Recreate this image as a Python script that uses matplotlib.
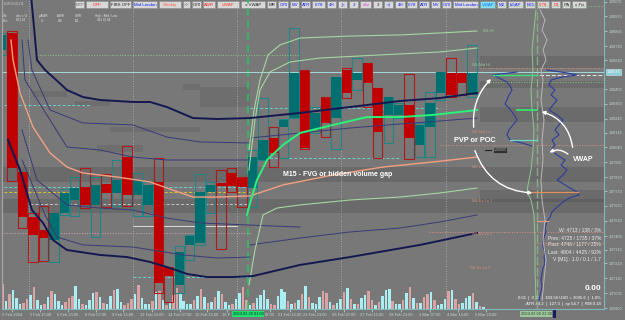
import numpy as np
import matplotlib.pyplot as plt
from matplotlib.patches import FancyArrowPatch, Rectangle

plt.rcParams['font.family'] = ['Liberation Sans', 'DejaVu Sans']

# ---- velas de 12h (indice 0 = 2 Feb 2024) ----
candle_idx = list(range(-1, 45))
c_open = [1.08732, 1.08853, 1.07866, 1.07546, 1.07454, 1.07383, 1.07575, 1.07667, 1.07759, 1.07632,
          1.07781, 1.07717, 1.07972, 1.07703, 1.07632, 1.07795, 1.07184, 1.07064, 1.07348, 1.07362,
          1.07724, 1.07788, 1.07859, 1.07823, 1.07752, 1.07951, 1.08107, 1.08185, 1.08249, 1.08583,
          1.08164, 1.08391, 1.08249, 1.08590, 1.08519, 1.08640, 1.08462, 1.08271, 1.08271, 1.08342,
          1.08058, 1.08185, 1.08427, 1.08569, 1.08569, 1.08413]
c_high = [1.08853, 1.08867, 1.07866, 1.07575, 1.07624, 1.07575, 1.07745, 1.07830, 1.07894, 1.07830,
          1.07852, 1.07951, 1.08050, 1.07859, 1.07795, 1.07965, 1.07191, 1.07340, 1.07419, 1.07852,
          1.07795, 1.07880, 1.07894, 1.07830, 1.08022, 1.08391, 1.08185, 1.08242, 1.08888, 1.08590,
          1.08327, 1.08398, 1.08540, 1.08604, 1.08675, 1.08640, 1.08462, 1.08398, 1.08356, 1.08562,
          1.08214, 1.08434, 1.08576, 1.08675, 1.08569, 1.08768]
c_low = [1.08697, 1.07802, 1.07468, 1.07227, 1.07234, 1.07227, 1.07561, 1.07553, 1.07610, 1.07404,
         1.07617, 1.07624, 1.07624, 1.07553, 1.07553, 1.07007, 1.06943, 1.07007, 1.07241, 1.07348,
         1.07575, 1.07319, 1.07724, 1.07617, 1.07617, 1.07951, 1.07901, 1.07965, 1.08249, 1.08029,
         1.08143, 1.08114, 1.08029, 1.08391, 1.08448, 1.08327, 1.07965, 1.08072, 1.08249, 1.07958,
         1.07972, 1.07972, 1.08377, 1.08398, 1.08413, 1.08398]
c_close = [1.08839, 1.07894, 1.07546, 1.07419, 1.07397, 1.07575, 1.07717, 1.07752, 1.07632, 1.07774,
           1.07717, 1.07809, 1.07703, 1.07809, 1.07774, 1.07078, 1.07127, 1.07298, 1.07411, 1.07724,
           1.07774, 1.07766, 1.07766, 1.07759, 1.07972, 1.08093, 1.08001, 1.08235, 1.08569, 1.08036,
           1.08285, 1.08214, 1.08540, 1.08427, 1.08569, 1.08498, 1.08150, 1.08398, 1.08342, 1.08107,
           1.08200, 1.08356, 1.08576, 1.08413, 1.08498, 1.08569]

# ---- linhas VWAP / bandas ----
navy_hi_x = [1.82, 2.39, 3.16, 3.92, 5.26, 6.79, 8.42, 11.58, 13.21, 14.83, 17.32, 19.62, 22.78, 27.56, 32.34, 37.13, 40.96, 44.50]
navy_hi_y = [1.09123, 1.08661, 1.08590, 1.08540, 1.08448, 1.08398, 1.08377, 1.08363, 1.08363, 1.08327, 1.08249, 1.08242, 1.08249, 1.08285, 1.08327, 1.08370, 1.08391, 1.08427]
navy_lo_x = [-0.38, 0.77, 1.91, 2.97, 3.92, 5.26, 8.42, 11.00, 13.21, 14.83, 16.75, 18.66, 21.15, 23.06, 27.56, 32.34, 39.04, 44.50]
navy_lo_y = [1.08093, 1.07880, 1.07596, 1.07504, 1.07383, 1.07312, 1.07277, 1.07262, 1.07227, 1.07191, 1.07142, 1.07120, 1.07120, 1.07127, 1.07206, 1.07262, 1.07348, 1.07433]
thin_lines = [
    ([1.53, 1.91, 3.64, 6.79, 11.58, 14.83, 17.99, 22.78],
     [1.08803, 1.08590, 1.08306, 1.08214, 1.08200, 1.08114, 1.08079, 1.08072]),
    ([0.96, 1.24, 5.26, 8.42, 11.58, 14.83, 22.78],
     [1.08803, 1.08519, 1.08043, 1.08022, 1.07972, 1.07951, 1.07951]),
    ([0.96, 2.39, 5.26, 8.42, 11.58, 14.83, 17.99, 22.78, 27.56],
     [1.08164, 1.07809, 1.07632, 1.07610, 1.07596, 1.07539, 1.07504, 1.07489, 1.07475]),
    ([0.96, 3.16, 4.31, 6.79, 11.58, 16.36, 19.62, 22.78],
     [1.07951, 1.07561, 1.07404, 1.07348, 1.07333, 1.07277, 1.07255, 1.07262]),
    ([22.78, 27.56, 32.34, 37.13, 40.96, 44.50],
     [1.08107, 1.08143, 1.08178, 1.08207, 1.08228, 1.08249]),
    ([22.78, 27.56, 32.34, 37.13, 40.96, 44.50],
     [1.07348, 1.07397, 1.07440, 1.07468, 1.07511, 1.07561]),
]
salmon_x = [-0.10, 0.10, 0.77, 2.01, 3.64, 5.26, 6.79, 10.05, 13.21, 14.83, 17.32, 19.62, 22.78, 25.93, 30.72, 35.50, 40.29, 44.50]
salmon_y = [1.08803, 1.08661, 1.08427, 1.08185, 1.08001, 1.07901, 1.07859, 1.07830, 1.07795, 1.07752, 1.07688, 1.07688, 1.07696, 1.07774, 1.07845, 1.07901, 1.07937, 1.07972]
lime_x = [22.49, 22.78, 23.44, 24.40, 25.93, 27.56, 30.72, 33.97, 37.13, 40.29, 44.50]
lime_y = [1.07561, 1.07646, 1.07809, 1.07951, 1.08058, 1.08143, 1.08200, 1.08256, 1.08256, 1.08271, 1.08306]
week_lines = [
    ([22.68, 23.16, 23.73, 24.50, 25.65, 27.56, 32.34, 37.13, 40.96, 44.50],
     [1.08022, 1.08306, 1.08519, 1.08697, 1.08768, 1.08817, 1.08831, 1.08839, 1.08853, 1.08867]),
    ([22.68, 23.25, 23.73, 24.69, 26.60, 29.47, 35.22, 40.96, 44.50],
     [1.07880, 1.08235, 1.08448, 1.08576, 1.08647, 1.08675, 1.08697, 1.08718, 1.08746]),
    ([22.68, 23.25, 24.02, 25.36, 27.56, 32.34, 37.13, 40.96, 44.50],
     [1.07064, 1.07312, 1.07561, 1.07610, 1.07632, 1.07667, 1.07688, 1.07717, 1.07752]),
]

# ---- niveis horizontais (preco, inicio, fim) ----
lvl_price = [1.08576, 1.08555, 1.08505, 1.09044, 1.08604, 1.08058, 1.07724, 1.08342, 1.07759, 1.07483,
             1.07639, 1.07433, 1.07120, 1.08697, 1.08320, 1.07965, 1.07440, 1.07362]
lvl_x0 = [-1.2, 46.0, 45.74, 44.78, 44.78, 40.96, -1.2, -1.2, -1.2, 11.58,
          1.7, -1.2, 11.58, 2.39, 22.78, 22.78, 39.9, 50.0]
lvl_x1 = [56.7, 56.7, 56.7, 56.7, 56.7, 56.7, 22.78, 7.5, 22.78, 21.53,
          22.78, 22.78, 22.78, 27.56, 40.96, 37.13, 56.7, 56.7]
lvl_col = ['#a4d8d8', '#e8e8e8', '#84c884', '#84c884', '#d89080', '#d89080', '#d8c428', '#6cd0d0', '#6cd0d0', '#dcdcdc',
           '#c4c4c4', '#d8a0c0', '#6cd0d0', '#88c888', '#6cd0d0', '#6cd0d0', '#d89080', '#d89080']
lvl_ls = ['-', (0, (4, 2)), ':', ':', ':', ':', (0, (3, 2)), (0, (3, 2)), (0, (3, 2)), '-',
          (0, (3, 2)), ':', (0, (3, 2)), ':', (0, (3, 2)), (0, (3, 2)), ':', ':']

# ---- zonas de volume (gaps) ----
band_full = [(1.07795, 1.07901), (1.07575, 1.07674)]
band_right = [(1.08604, 1.08689), (1.08462, 1.08512), (1.08221, 1.08327), (1.07653, 1.07738)]
boxes = [(2.01, 5.26, 1.08398, 1.08441), (6.03, 9.38, 1.08334, 1.08370), (9.38, 17.99, 1.08150, 1.08185),
         (8.13, 12.54, 1.08008, 1.08058), (16.36, 17.99, 1.08448, 1.08491), (17.99, 22.78, 1.08327, 1.08469)]

# ---- perfil de volume ----
prof_r_lvl = [1.08590, 1.08569, 1.08555, 1.08540, 1.08519, 1.08484, 1.08448, 1.08413, 1.08377, 1.08342,
              1.08306, 1.08271, 1.08235, 1.08200, 1.08164, 1.08129, 1.08093, 1.08058, 1.08022, 1.07987,
              1.07951, 1.07915, 1.07880, 1.07845, 1.07809, 1.07774, 1.07752, 1.07724, 1.07703, 1.07681,
              1.07653, 1.07617, 1.07582, 1.07546, 1.07511, 1.07475, 1.07440, 1.07404, 1.07369, 1.07333,
              1.07298, 1.07262, 1.07220, 1.07184, 1.07149, 1.07099, 1.07049, 1.06992, 1.06957]
prof_r_vol = [10, 30, 40, 25, 14, 12, 18, 14, 20, 16, 12, 20, 26, 22, 18, 22, 15, 18, 14, 20,
              28, 24, 30, 26, 20, 28, 33, 40, 42, 32, 26, 20, 15, 13, 10, 8, 9, 7, 6, 6,
              8, 7, 8, 6, 5, 4, 5, 3, 2]
prof_l_lvl = [1.08576, 1.08555, 1.08533, 1.08505, 1.08476, 1.08448, 1.08413, 1.08377, 1.08349, 1.08320,
              1.08292, 1.08263, 1.08235, 1.08200, 1.08164, 1.08129, 1.08093, 1.08072, 1.08050]
prof_l_vol = [20, 44, 38, 30, 27, 25, 28, 30, 32, 28, 25, 22, 20, 24, 28, 30, 27, 15, 5]
prof_g_lvl = [1.09016, 1.08945, 1.08874, 1.08803, 1.08732, 1.08661, 1.08590, 1.08519, 1.08377, 1.08235,
              1.08093, 1.07951, 1.07809, 1.07667, 1.07525, 1.07383, 1.07241, 1.07099, 1.06957]
prof_g_vol = [3, 8, 5, 10, 6, 9, 4, 6, 4, 7, 5, 6, 4, 5, 8, 6, 9, 7, 5]
prof_v_lvl = [1.09016, 1.08874, 1.08732, 1.08590, 1.08448, 1.08306, 1.08164, 1.08022, 1.07880, 1.07774,
              1.07724, 1.07667, 1.07561, 1.07383, 1.07170, 1.06957]
prof_v_vol = [1, 3, 5, 4, 6, 5, 3, 4, 6, 9, 10, 6, 3, 2, 2, 1]

# ---- volume H1 (tick volume) ----
vol = [2500, 800, 1500, 1900, 1100, 500, 600, 1000, 1400, 2200, 900, 450,
       550, 1200, 1800, 1500, 800, 400, 700, 1100, 1300, 2300, 1000, 500,
       450, 900, 1600, 1700, 1200, 600, 500, 1300, 1900, 2000, 700, 400,
       650, 1000, 1500, 2400, 1100, 550, 500, 800, 1700, 1800, 900, 450,
       600, 1400, 2100, 1600, 800, 500, 550, 900, 1300, 2000, 1200, 600,
       700, 1200, 1800, 1500, 700, 400, 500, 1000, 1600, 2200, 900, 450,
       600, 1100, 1400, 1900, 1000, 500, 450, 1300, 2000, 1700, 800, 550,
       650, 900, 1500, 2300, 1200, 600, 500, 1200, 1800, 1600, 700, 400,
       600, 1000, 1700, 2100, 1000, 500, 550, 1100, 1400, 1800, 900, 450,
       700, 1300, 1900, 2000, 800, 500, 500, 900, 1600, 2200, 1100, 600,
       600, 1200, 1500, 1700, 900, 450, 550, 1000, 1800, 1900, 1000, 500,
       650, 1100, 1300, 1600, 700, 300, 200]
vol_dir = ("pcpcccppcp" "ccpcpcccpp" "pccpcccpcp" "ccpccpppcp" "cccpcpcpcp" "pccccpcpcp" "cpcpccpccp"
           "pcpccccppc" "ccpcpcpcpc" "ccppcpccpc" "pcpccppcpc" "ccpccpcpcp" "cppcpcccpc" "ppcccpcpc")

# ---- eixos / rotulos ----
week_sep = [1.63, 11.58, 21.53, 31.48, 41.53]
price_ticks = [1.06900, 1.07005, 1.07110, 1.07219, 1.07315, 1.07409, 1.07520, 1.07625, 1.07730, 1.07830,
               1.07935, 1.08040, 1.08145, 1.08245, 1.08350, 1.08455, 1.08660, 1.08760, 1.08865, 1.08970, 1.09075]
date_pos = [0.0, 2.68, 5.36, 8.04, 10.62, 13.40, 16.08, 18.66, 20.53, 24.69, 26.60, 29.00, 31.77, 34.45,
            37.22, 40.00, 42.68, 45.36]
date_lbl = ['2 Feb 2024', '5 Feb 15:00', '6 Feb 23:00', '8 Feb 07:00', '9 Feb 15:00', '12 Feb 23:00',
            '14 Feb 07:00', '15 Feb 15:00', '16 F', '07:00', '21 Feb 15:00', '22 Feb 23:00',
            '26 Feb 07:00', '27 Feb 15:00', '28 Feb 23:00', '1 Mar 07:00', '4 Mar 15:00', '5 Mar 23:00']

BG = '#787878'
W, H = 625, 320
fig = plt.figure(figsize=(6.25, 3.2), dpi=100, facecolor=BG)
ax = fig.add_axes([2 / W, 11 / H, 602 / W, 309 / H])
vax = ax.twinx()
ax.set_zorder(vax.get_zorder() + 1)
ax.patch.set_visible(False)
vax.axis('off')

XL = (-0.957, 56.65)
YL = (1.068931, 1.09087)

# volume
vx = -0.9 + np.arange(len(vol)) / 3
vcol = ['#a8eef2' if d == 'c' else '#dba4a4' for d in vol_dir]
vax.bar(vx, vol, width=0.24, color=vcol, linewidth=0)
vax.set_ylim(0, 30900)
vax.set_xlim(*XL)

# zonas
for p0, p1 in band_full:
    ax.fill_between(XL, p0, p1, color='black', alpha=0.11, linewidth=0, zorder=0.5)
for p0, p1 in band_right:
    ax.fill_between([44.78, XL[1]], p0, p1, color='black', alpha=0.10, linewidth=0, zorder=0.5)
for x0, x1, p0, p1 in boxes:
    ax.fill_between([x0, x1], p0, p1, color='black', alpha=0.08, linewidth=0, zorder=0.5)

for s in week_sep:
    ax.axvline(s, color='#b4b4b4', lw=0.6, ls=(0, (1, 2)), zorder=0.6)
ax.axvline(22.58, color='#22c864', lw=1.1, ls=(0, (5, 3)), zorder=0.7)
ax.axvline(50.24, color='#8aa88a', lw=1.0, ls=(0, (6, 2)), zorder=0.7)

for p, a, b, c, l in zip(lvl_price, lvl_x0, lvl_x1, lvl_col, lvl_ls):
    ax.plot([a, b], [p, p], color=c, lw=0.7, ls=l, zorder=1)

# velas
x = np.array(candle_idx)
o, h, l, c = map(np.array, (c_open, c_high, c_low, c_close))
up = c >= o
ax.bar(x, h - l, bottom=l, width=0.9, fill=False,
       edgecolor=np.where(up, '#1f8585', '#b01818'), linewidth=0.8, zorder=2)
ax.bar(x, np.abs(c - o), bottom=np.minimum(o, c), width=0.9,
       color=np.where(up, '#006f6f', '#c00000'), linewidth=0, zorder=2)

# linhas
for xs, ys in thin_lines:
    ax.plot(xs, ys, color='#3a3a78', lw=0.7, zorder=3)
for xs, ys in week_lines:
    ax.plot(xs, ys, color='#a4d8a0', lw=0.8, zorder=3)
ax.plot(navy_hi_x, navy_hi_y, color='#141850', lw=1.4, zorder=3)
ax.plot(navy_lo_x, navy_lo_y, color='#141850', lw=1.4, zorder=3)
ax.plot(salmon_x, salmon_y, color='#f4a080', lw=1.0, zorder=3)
ax.plot(lime_x, lime_y, color='#2af27a', lw=1.4, zorder=3)

# perfil de volume
base = 50.24
k = 1 / 10.45
ax.plot(base + np.array(prof_r_vol) * k, prof_r_lvl, color='#2c3c9c', lw=0.8, zorder=3)
ax.plot(base - np.array(prof_l_vol) * k, prof_l_lvl, color='#2c3c9c', lw=0.8, zorder=3)
ax.plot(base + np.array(prof_g_vol) * k, prof_g_lvl, color='#b8b8b8', lw=0.7, zorder=3)
ax.plot(base - np.array(prof_v_vol) * k, prof_v_lvl, color='#90c890', lw=0.7, zorder=3)
ax.plot([46.03, base], [1.08555, 1.08555], color='#3ce07a', lw=1.0, zorder=3)
ax.plot([48.33, base], [1.08306, 1.08306], color='#30f070', lw=1.2, zorder=3)
ax.plot([47.66, base], [1.08093, 1.08093], color='#70d8c8', lw=0.9, zorder=3)
ax.plot([49.57, 54.16], [1.07724, 1.07724], color='#e0905c', lw=0.9, zorder=3)
ax.plot([base, 51.3], [1.07518, 1.07518], color='#e0a080', lw=0.9, zorder=3)
ax.plot([45.3, 45.8], [1.08022, 1.08022], color='#202020', lw=0.8, zorder=3)
ax.text(46.1, 1.08022, '1.08005', fontsize=2.6, color='#b0b0b0', va='center', zorder=4,
        bbox=dict(fc='#303030', ec='#909090', lw=0.4, pad=0.4))

# rotulos semanais
wk_lbl = [('Wk Hi', 45.07, 1.08867, '#98d098'), ('Wk Mid Hi', 44.02, 1.08626, '#98c898'),
          ('Wk Mid Lo', 44.02, 1.08150, '#d09080'), ('Wk Lo', 44.02, 1.07901, '#d09080'),
          ('Wk Ex Lo 1', 44.02, 1.07660, '#d09080'), ('Wk Ex Lo 2', 44.02, 1.07426, '#d09080'),
          ('Wk Ex Lo 3', 43.83, 1.07184, '#d09080')]
for t, xx, yy, cc in wk_lbl:
    ax.text(xx, yy, t, fontsize=2.8, color=cc, va='center', ha='left', zorder=4)

# anotacoes
ax.text(25.93, 1.07845, 'M15 - FVG or hidden volume gap', fontsize=5, fontweight='bold',
        color='white', va='center', ha='left', zorder=6)
ax.text(44.31, 1.08093, 'PVP or POC', fontsize=5.3, fontweight='bold',
        color='white', va='center', ha='center', zorder=6)
ax.text(54.64, 1.07958, 'VWAP', fontsize=5, fontweight='bold',
        color='white', va='center', ha='center', zorder=6)
arrows = [((44.21, 1.08164), (46.03, 1.08540), -0.25),
          ((44.21, 1.08036), (50.05, 1.07717), 0.35),
          ((53.68, 1.08022), (50.43, 1.08299), 0.35),
          ((53.40, 1.07980), (51.20, 1.07994), 0.4)]
for a, b, r in arrows:
    ax.add_patch(FancyArrowPatch(a, b, connectionstyle='arc3,rad=%s' % r, arrowstyle='-|>',
                                 mutation_scale=5, lw=1.0, color='white', zorder=6))

ax.set_xlim(*XL)
ax.set_ylim(*YL)
ax.yaxis.tick_right()
ax.set_yticks(price_ticks)
ax.set_yticklabels(['%.5f' % p for p in price_ticks])
ax.tick_params(axis='y', colors='#c4d8d8', labelsize=2.7, length=2, width=0.5, pad=1)
ax.set_xticks(date_pos)
ax.set_xticklabels(date_lbl)
ax.tick_params(axis='x', colors='#c8d8d8', labelsize=2.9, length=2, width=0.5, pad=1)
ax.spines['top'].set_visible(False)
ax.spines['right'].set_color('#80b8b8')
ax.spines['bottom'].set_color('#80b8b8')
ax.spines['left'].set_color('#a8a8a8')
for s in ['right', 'bottom', 'left']:
    ax.spines[s].set_linewidth(0.8)

ax.text(1.004, 1.08576, '1.08575', transform=ax.get_yaxis_transform(), fontsize=2.7, color='white',
        va='center', ha='left', zorder=7, bbox=dict(fc='#8ccfd6', ec='#c8f0f0', lw=0.4, pad=0.5),
        clip_on=False)
ax.text(22.58, -0.017, '2024.02.20 01:00', transform=ax.get_xaxis_transform(), fontsize=2.9,
        color='#053015', va='center', ha='center', zorder=7, clip_on=False,
        bbox=dict(fc='#1fe070', ec='none', pad=0.6))
ax.text(50.14, -0.017, '2024.03.08 22:00', transform=ax.get_xaxis_transform(), fontsize=2.9,
        color='#304030', va='center', ha='center', zorder=7, clip_on=False,
        bbox=dict(fc='#9cc89c', ec='none', pad=0.6))

# ---- interface (coordenadas em pixels) ----
ui = fig.add_axes([0, 0, 1, 1])
ui.set_xlim(0, W)
ui.set_ylim(H, 0)
ui.axis('off')
ui.add_patch(Rectangle((553, 310), 3, 8, fc='#1a1a60', ec='none'))

buttons = [("MTF", 75, 85, '#707070'), ("OFF", 86, 109, '#ff2020'), ("FIBS OFF", 110, 132, '#202020'),
           ("Mid London", 133, 158, '#1020ff'), ("Weekly", 159, 182, '#ff5a3c'), ("XX", 183, 191, '#808080'),
           ("G70", 192, 202, '#202020'), ("AWR", 203, 216, '#ff2020'), ("VWAP", 217, 240, '#ff3c1e'),
           ("± VWAP", 241, 266, '#202020'), ("MR", 267, 277, '#202020'), ("G70", 278, 289, '#1020ff'),
           ("MV", 290, 300, '#1020ff'), ("ATR", 301, 311, '#1020ff'), ("0.78", 312, 326, '#1020ff'),
           ("4H", 327, 337, '#1020ff'), ("|<", 338, 348, '#1020ff'), ("3", 349, 359, '#1020ff'),
           ("v2v", 360, 372, '#e020e0'), ("3", 373, 383, '#202020'), (">|", 384, 394, '#1020ff'),
           ("4H", 395, 406, '#1020ff'), ("0.78", 407, 418, '#1020ff'), ("ATR", 419, 430, '#1020ff'),
           ("MV", 431, 441, '#1020ff'), ("G70", 442, 452, '#1020ff'), ("Mid London", 453, 479, '#1020ff'),
           ("VWAP", 480, 496, '#2060ff'), ("M2", 497, 507, '#1020ff'), ("bGAP", 508, 524, '#1020ff'),
           ("M15", 525, 536, '#1020ff'), ("0.78", 537, 550, '#ff2020'), ("D1", 551, 561, '#ff2020'),
           ("RA", 562, 571, '#303030'), ("x Fix", 572, 587, '#303030')]
for t, x0, x1, tc in buttons:
    fc = '#80e4ff' if (t == 'VWAP' and x0 > 400) else '#d8d8d8'
    ui.add_patch(Rectangle((x0, 0.8), x1 - x0 - 0.6, 7.4, fc=fc, ec='#8a8a8a', lw=0.4))
    ui.text((x0 + x1) / 2, 4.6, t, fontsize=3.2, color=tc, ha='center', va='center')

ui.text(4, 3.5, 'EURUSD,H1', fontsize=2.6, color='#c8c8c8', va='center')
for t, xx in [('Wk', 3), ('day r / d', 16), ('p.AWR', 39), ('AWR', 57), ('SWR', 75), ('High / Mid / Low', 95)]:
    ui.text(xx, 16, t, fontsize=2.2, color='#e4e4e4', va='center')
for t, xx in [('Dev', 3), ('80 | 48', 16), ('70', 41), ('126', 58), ('111', 75), ('48 | 0 | 84', 97)]:
    ui.text(xx, 20.5, t, fontsize=2.2, color='#e4e4e4', va='center')

info = ['W: 4713 / 138 / 3%', 'Prev: 4725 / 1735 / 37%', 'Past: 4746 / 1177 / 25%',
        'Last: 4804 / 4425 / 92%', 'V [M1] : 1.0 / 0.1 / 1.7']
for i, t in enumerate(info):
    ui.text(601, 231 + i * 7, t, fontsize=3.6, color='#ececec', ha='right', va='center')
ui.text(601, 289, '0.00', fontsize=6, fontweight='bold', color='white', ha='right', va='center')
ui.text(601, 298, '0.01  |  0.10  |  103.56 USD = 1035.6  |  1.0%', fontsize=3.1, color='white',
        ha='right', va='center')
ui.text(601, 304, 'ATR 44.2  |  127.3  |  sp 54.7  |  RM 0.18', fontsize=3.1, color='white',
        ha='right', va='center')

fig.savefig('out.png', dpi=100, facecolor=BG)
